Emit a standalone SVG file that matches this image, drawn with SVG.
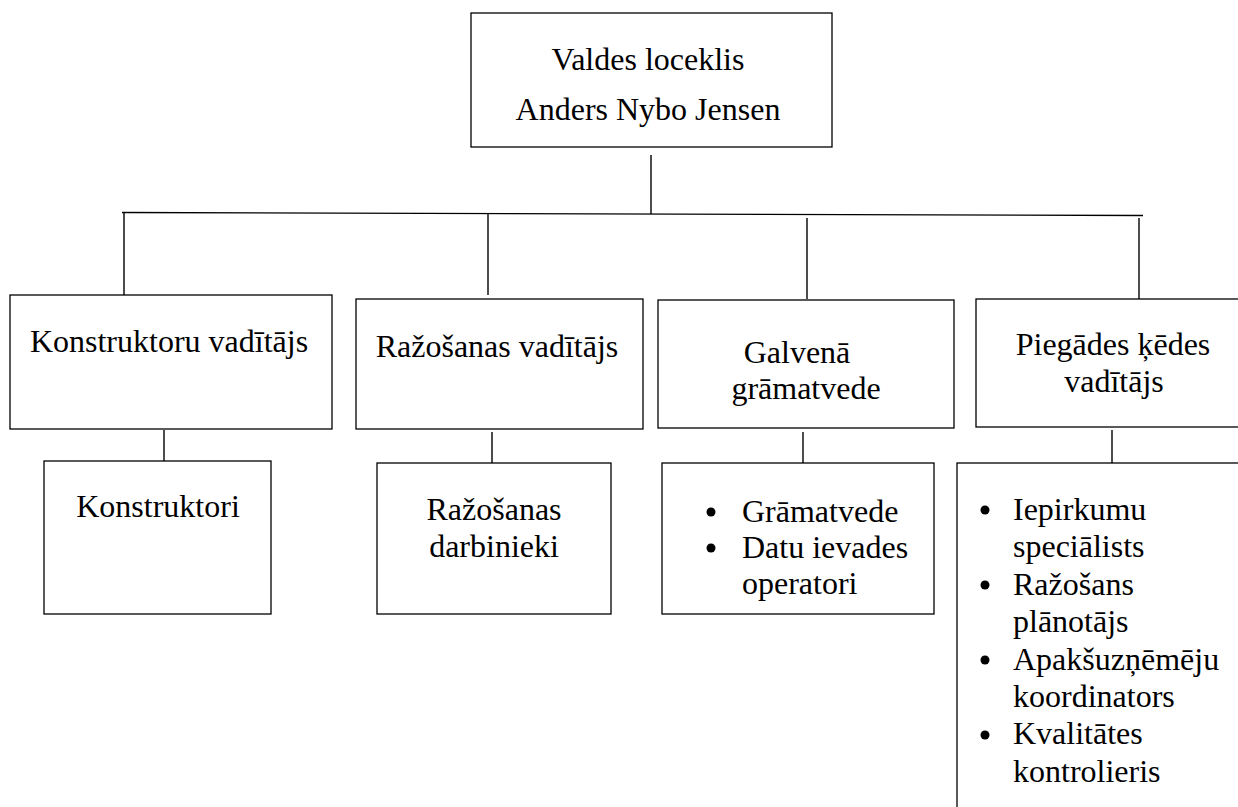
<svg xmlns="http://www.w3.org/2000/svg" width="1238" height="807" viewBox="0 0 1238 807">
<style>
.box{fill:#fff;stroke:#000;stroke-width:1.3}
.ln{stroke:#000;stroke-width:1.4;fill:none}
text{font-family:"Liberation Serif","Times New Roman",serif;font-size:32px;fill:#000}
.c{text-anchor:middle}
.b{fill:#000}
</style>
<rect width="1238" height="807" fill="#fff"/>
<g id="connectors">
<line class="ln" x1="651" y1="155" x2="651" y2="214"/>
<line class="ln" x1="122" y1="212.5" x2="1143" y2="215.5"/>
<line class="ln" x1="124" y1="213" x2="124" y2="295"/>
<line class="ln" x1="488" y1="214" x2="488" y2="295"/>
<line class="ln" x1="807" y1="218" x2="807" y2="299"/>
<line class="ln" x1="1139" y1="218" x2="1139" y2="299"/>
<line class="ln" x1="164" y1="430" x2="164" y2="461"/>
<line class="ln" x1="492" y1="432" x2="492" y2="463"/>
<line class="ln" x1="803" y1="432" x2="803" y2="463"/>
<line class="ln" x1="1112" y1="430" x2="1112" y2="463"/>
</g>
<g id="top">
<rect class="box" x="471" y="13" width="361" height="134"/>
<text class="c" x="648" y="70">Valdes loceklis</text>
<text class="c" x="648" y="120">Anders Nybo Jensen</text>
</g>
<g id="konstruktoru-vaditajs">
<rect class="box" x="10" y="295" width="322" height="134"/>
<text class="c" x="169" y="352">Konstruktoru vadītājs</text>
</g>
<g id="razosanas-vaditajs">
<rect class="box" x="356" y="299" width="287" height="130"/>
<text class="c" x="497" y="357">Ražošanas vadītājs</text>
</g>
<g id="galvena-gramatvede">
<rect class="box" x="658" y="300" width="296" height="128"/>
<text class="c" x="797" y="363">Galvenā</text>
<text class="c" x="806" y="399">grāmatvede</text>
</g>
<g id="piegades-kedes-vaditajs">
<rect class="box" x="976" y="299" width="280" height="128"/>
<text class="c" x="1113" y="355">Piegādes ķēdes</text>
<text class="c" x="1114" y="392">vadītājs</text>
</g>
<g id="konstruktori">
<rect class="box" x="44" y="461" width="227" height="153"/>
<text class="c" x="158" y="517">Konstruktori</text>
</g>
<g id="razosanas-darbinieki">
<rect class="box" x="377" y="463" width="234" height="151"/>
<text class="c" x="494" y="520">Ražošanas</text>
<text class="c" x="494" y="557">darbinieki</text>
</g>
<g id="gramatvedes">
<rect class="box" x="662" y="463" width="272" height="151"/>
<circle class="b" cx="711" cy="512" r="4.5"/>
<text x="742" y="522">Grāmatvede</text>
<circle class="b" cx="711" cy="548" r="4.5"/>
<text x="742" y="558">Datu ievades</text>
<text x="742" y="594">operatori</text>
</g>
<g id="piegades-darbinieki">
<rect class="box" x="957" y="463" width="300" height="360"/>
<circle class="b" cx="985" cy="510" r="4.5"/>
<text x="1013" y="520">Iepirkumu</text>
<text x="1013" y="557.4">speciālists</text>
<circle class="b" cx="985" cy="585" r="4.5"/>
<text x="1013" y="594.8">Ražošans</text>
<text x="1013" y="632.2">plānotājs</text>
<circle class="b" cx="985" cy="660" r="4.5"/>
<text x="1013" y="669.6">Apakšuzņēmēju</text>
<text x="1013" y="707">koordinators</text>
<circle class="b" cx="985" cy="735" r="4.5"/>
<text x="1013" y="744.4">Kvalitātes</text>
<text x="1013" y="781.8">kontrolieris</text>
</g>
</svg>
